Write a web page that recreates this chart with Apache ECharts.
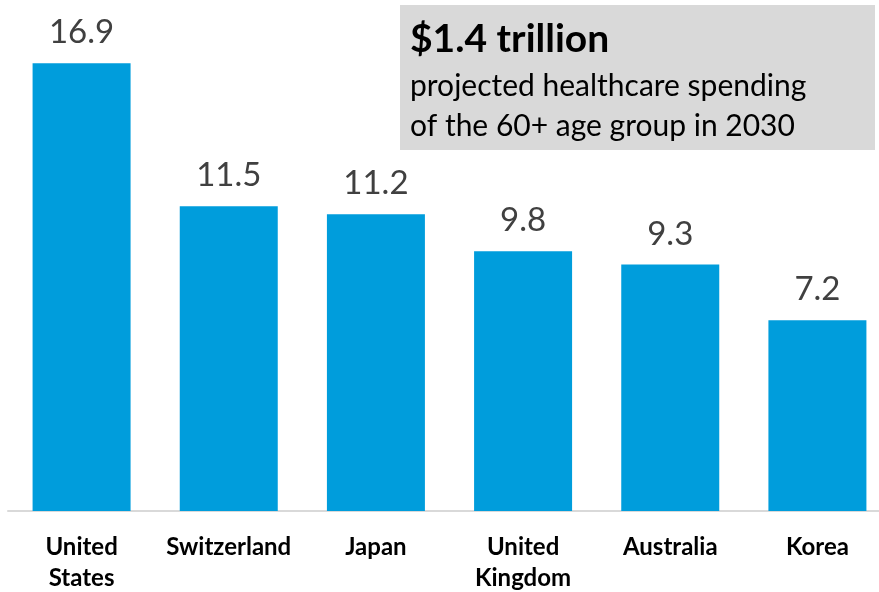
<!DOCTYPE html>
<html>
<head>
<meta charset="utf-8">
<script src="https://cdn.jsdelivr.net/npm/echarts@6/dist/echarts.min.js"></script>
<style>html,body{margin:0;padding:0;background:#fff}#c{width:879px;height:592px}</style>
</head>
<body>
<div id="c"></div>
<script>
const categories = ['United\nStates', 'Switzerland', 'Japan', 'United\nKingdom', 'Australia', 'Korea'];
const values = [16.9, 11.5, 11.2, 9.8, 9.3, 7.2];
const calloutTitle = '$1.4 trillion';
const calloutLines = ['projected healthcare spending', 'of the 60+ age group in 2030'];

const chart = echarts.init(document.getElementById('c'), null, {renderer: 'canvas'});
chart.setOption({
  animation: false,
  backgroundColor: '#ffffff',
  grid: {left: 8, width: 883, top: 7.5, bottom: 81, containLabel: false, outerBoundsMode: 'none'},
  xAxis: {
    type: 'category',
    data: categories,
    axisLine: {lineStyle: {color: '#d9d9d9', width: 2}},
    axisTick: {show: false},
    axisLabel: {
      interval: 0,
      margin: 21,
      color: '#000000',
      fontFamily: 'Lato',
      fontWeight: 'bold',
      fontSize: 24,
      lineHeight: 31,
      verticalAlign: 'top'
    }
  },
  yAxis: {type: 'value', min: 0, max: 19, show: false, splitLine: {show: false}},
  series: [{
    type: 'bar',
    data: values,
    barWidth: 98,
    itemStyle: {color: '#009ddc'},
    label: {
      show: true,
      position: 'top',
      distance: 14,
      color: '#404040',
      fontFamily: 'Lato',
      fontSize: 33,
      formatter: p => p.value.toFixed(1)
    }
  }],
  graphic: [
    {type: 'rect', left: 400, top: 5, shape: {width: 475, height: 145}, style: {fill: '#d9d9d9'}, z: 10},
    {type: 'text', left: 410, top: 20, z: 11, style: {text: calloutTitle, font: 'bold 39px Lato', fill: '#000'}},
    {type: 'text', left: 410, top: 66, z: 11, style: {text: calloutLines.join('\n'), font: '30px Lato', lineHeight: 40, fill: '#000'}}
  ]
});
</script>
</body>
</html>
